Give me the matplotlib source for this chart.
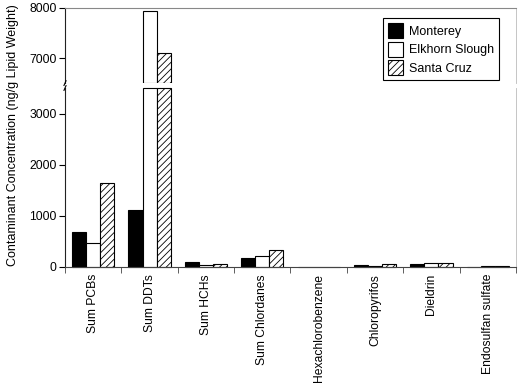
import numpy as np
import matplotlib.pyplot as plt
from matplotlib.patches import Patch

plt.rcParams['font.family'] = ['Liberation Sans', 'DejaVu Sans']
plt.rcParams['hatch.linewidth'] = 0.6

# concentrations in ng/g lipid weight
compounds = ['Sum PCBs', 'Sum DDTs', 'Sum HCHs', 'Sum Chlordanes',
             'Hexachlorobenzene', 'Chloropyrifos', 'Dieldrin', 'Endosulfan sulfate']
monterey = [680, 1110, 90, 170, 5, 45, 55, 5]
elkhorn = [465, 7940, 40, 215, 3, 20, 85, 10]
santa_cruz = [1650, 7095, 65, 330, 8, 55, 85, 10]

sites = ['Monterey', 'Elkhorn Slough', 'Santa Cruz']
series = [monterey, elkhorn, santa_cruz]
faces = ['black', 'white', 'white']
hatches = [None, None, '/////']

low_lim = (0, 3500)
high_lim = (6500, 8000)

fig = plt.figure(figsize=(5.18, 3.92), dpi=100)
ax_hi = fig.add_axes([0.1255, 0.788, 0.8705, 0.192])
ax_lo = fig.add_axes([0.1255, 0.319, 0.8705, 0.4565])

x = np.arange(len(compounds))
w = 0.25

for i, (vals, fc, h) in enumerate(zip(series, faces, hatches)):
    vals = np.array(vals, dtype=float)
    pos = x + (i - 1) * w
    # lower panel: cap at the top of the range so the outline closes there
    ax_lo.bar(pos, np.minimum(vals, low_lim[1]), width=w, color=fc,
              edgecolor='black', linewidth=0.8, hatch=h, clip_on=False)
    # upper panel: only the part above the break
    big = vals > high_lim[0]
    ax_hi.bar(pos[big], vals[big] - high_lim[0], bottom=high_lim[0], width=w,
              color=fc, edgecolor='black', linewidth=0.8, hatch=h)

handles = [Patch(facecolor=fc, edgecolor='black', hatch=h, linewidth=0.8)
           for fc, h in zip(faces, hatches)]
leg = fig.legend(handles, sites, loc='upper right', bbox_to_anchor=(0.9635, 0.954),
                 frameon=True, fancybox=False, edgecolor='black', fontsize=9,
                 handlelength=1.2, handleheight=1.47, handletextpad=0.5,
                 borderpad=0.4, labelspacing=0.28, framealpha=1, borderaxespad=0)
leg.get_frame().set_linewidth(0.8)
leg.set_zorder(10)

for ax in (ax_hi, ax_lo):
    ax.set_xlim(-0.5, len(compounds) - 0.5)
    ax.spines['left'].set_color('#222222')
    ax.spines['right'].set_color('#bbbbbb')
    ax.spines['right'].set_linewidth(0.6)
    ax.tick_params(axis='y', labelsize=8.7, length=4, width=0.8, pad=2)

ax_hi.set_ylim(*high_lim)
ax_hi.set_yticks([7000, 8000])
ax_hi.spines['bottom'].set_visible(False)
ax_hi.spines['top'].set_color('#888888')
ax_hi.set_xticks([])

ax_lo.set_ylim(*low_lim)
ax_lo.set_yticks([0, 1000, 2000, 3000])
ax_lo.spines['top'].set_visible(False)
ax_lo.spines['bottom'].set_color('#444444')
ax_lo.set_xticks(x)
ax_lo.set_xticklabels(compounds, rotation=90, fontsize=8.75)
ax_lo.tick_params(axis='x', length=0, pad=5)
ax_lo.set_xticks(np.arange(len(compounds) + 1) - 0.5, minor=True)
ax_lo.tick_params(axis='x', which='minor', length=4, width=0.6, color='#444444')

# break marks on the left spine
kw = dict(transform=fig.transFigure, color='black', linewidth=0.8, clip_on=False)
for yb in (0.788, 0.7755):
    fig.add_artist(plt.Line2D([0.1235, 0.1275], [yb - 0.006, yb + 0.006], **kw))

fig.text(0.025, 0.655, 'Contaminant Concentration (ng/g Lipid Weight)',
         rotation=90, ha='center', va='center', fontsize=9)

fig.savefig('out.png', dpi=100)
